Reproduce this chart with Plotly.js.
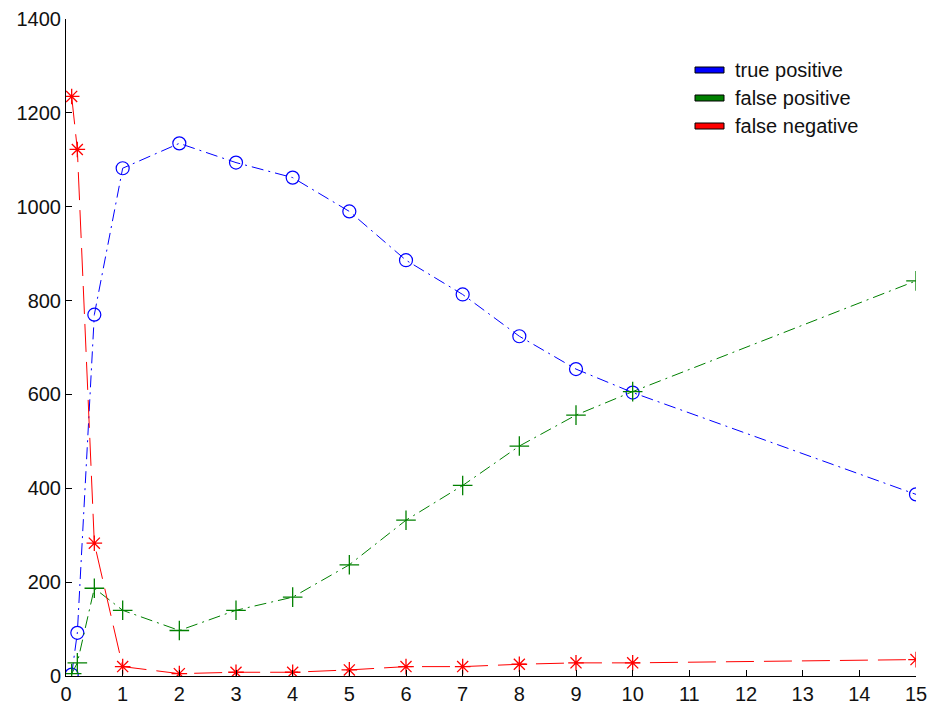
<!DOCTYPE html>
<html>
<head>
<meta charset="utf-8">
<script src="https://cdn.plot.ly/plotly-3.0.1.min.js"></script>
<style>html,body{margin:0;padding:0;background:#fff;}#chart{width:930px;height:707px;}</style>
</head>
<body>
<div id="chart"></div>
<script>
const xValues = [0.1, 0.2, 0.5, 1, 2, 3, 4, 5, 6, 7, 8, 9, 10, 15];
const truePositive = [3, 92, 770, 1082, 1135, 1094, 1062, 990, 886, 813, 724, 654, 604, 387];
const falsePositive = [5, 28, 187, 140, 97, 140, 168, 237, 332, 406, 490, 556, 606, 842];
const falseNegative = [1235, 1122, 283, 20, 5, 8, 8, 13, 20, 20, 25, 28, 28, 35];
const seriesNames = ["true positive", "false positive", "false negative"];
const seriesColors = ["#0000ff", "#008000", "#ff0000"];
const xTicks = [0,1,2,3,4,5,6,7,8,9,10,11,12,13,14,15];
const yTicks = [0,200,400,600,800,1000,1200,1400];

const traces = [
  {x: xValues, y: truePositive, name: seriesNames[0], mode: 'lines+markers',
   line: {color: seriesColors[0], width: 1, dash: '12px,5px,2px,5px'},
   marker: {symbol: 'circle-open', size: 13, color: seriesColors[0], line: {width: 1.2, color: seriesColors[0]}}},
  {x: xValues, y: falsePositive, name: seriesNames[1], mode: 'lines+markers',
   line: {color: seriesColors[1], width: 1, dash: '12px,5px,2px,5px'},
   marker: {symbol: 'cross-thin-open', size: 14, color: seriesColors[1], line: {width: 1.3, color: seriesColors[1]}}},
  {x: xValues, y: falseNegative, name: seriesNames[2], mode: 'lines+markers',
   line: {color: seriesColors[2], width: 1, dash: '28px,10px'},
   marker: {symbol: 'asterisk-open', size: 13, color: seriesColors[2], line: {width: 1.3, color: seriesColors[2]}}}
];

const L = 66, R = 916, T = 19, B = 676;
const shapes = [];
const annotations = [];
seriesNames.forEach((name, i) => {
  const yc = 70 + i * 28;
  shapes.push({type: 'rect', xref: 'paper', yref: 'paper',
    x0: (695 - L) / (R - L), x1: (724 - L) / (R - L),
    y0: (B - (yc + 3)) / (B - T), y1: (B - (yc - 3)) / (B - T),
    fillcolor: seriesColors[i], line: {color: '#000', width: 1}});
  annotations.push({xref: 'paper', yref: 'paper', x: (733 - L) / (R - L), y: (B - yc) / (B - T),
    xanchor: 'left', yanchor: 'middle', text: name, showarrow: false,
    font: {family: 'Liberation Sans, Arial, sans-serif', size: 20, color: '#111'}});
});

const layout = {
  width: 930, height: 707,
  margin: {l: L, r: 930 - R, t: T, b: 707 - B, pad: 0},
  paper_bgcolor: '#fff', plot_bgcolor: '#fff',
  showlegend: false,
  font: {family: 'Liberation Sans, Arial, sans-serif', size: 20, color: '#111'},
  xaxis: {range: [0, 15], tickvals: xTicks, ticktext: xTicks.map(String),
    showgrid: false, zeroline: false, showline: true, linecolor: '#000', linewidth: 1,
    ticks: 'inside', ticklen: 6, tickcolor: '#000', mirror: false, fixedrange: true},
  yaxis: {range: [0, 1400], tickvals: yTicks, ticktext: yTicks.map(String),
    showgrid: false, zeroline: false, showline: true, linecolor: '#000', linewidth: 1,
    ticks: 'inside', ticklen: 6, tickcolor: '#000', mirror: false, fixedrange: true},
  shapes: shapes,
  annotations: annotations
};

Plotly.newPlot('chart', traces, layout, {displayModeBar: false, staticPlot: true});
</script>
</body>
</html>
